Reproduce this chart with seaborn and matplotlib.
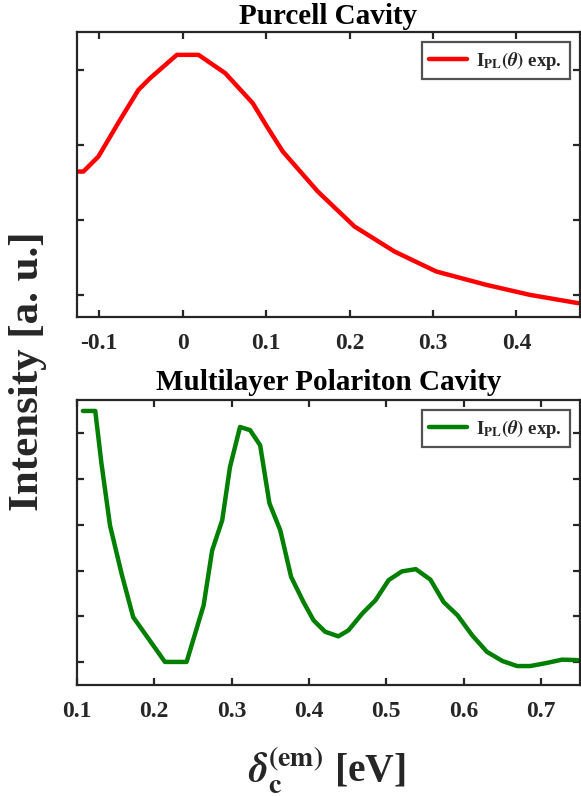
import matplotlib
matplotlib.use("Agg")
import matplotlib.pyplot as plt
import seaborn as sns
import pandas as pd

# ---- data ----
purcell_x = [-0.125, -0.119, -0.101, -0.075, -0.053, -0.039, -0.007, 0.019, 0.051, 0.084,
             0.101, 0.120, 0.162, 0.206, 0.254, 0.304, 0.364, 0.416, 0.474]
purcell_y = [2.644, 2.644, 2.844, 3.333, 3.733, 3.889, 4.20, 4.20, 3.956, 3.556,
             3.244, 2.911, 2.377, 1.911, 1.577, 1.311, 1.133, 1.00, 0.889]

polariton_x = [0.108, 0.124, 0.132, 0.143, 0.158, 0.173, 0.214, 0.242, 0.264, 0.275,
               0.288, 0.298, 0.311, 0.324, 0.337, 0.349, 0.363, 0.377, 0.393, 0.406,
               0.421, 0.438, 0.451, 0.469, 0.486, 0.503, 0.520, 0.538, 0.557, 0.574,
               0.592, 0.611, 0.630, 0.650, 0.669, 0.686, 0.708, 0.727, 0.747]
polariton_y = [6.49, 6.49, 5.34, 3.99, 2.93, 1.98, 1.00, 1.00, 2.24, 3.44,
               4.10, 5.26, 6.14, 6.07, 5.74, 4.47, 3.88, 2.86, 2.31, 1.91,
               1.66, 1.56, 1.69, 2.06, 2.35, 2.79, 2.98, 3.03, 2.80, 2.31,
               2.02, 1.58, 1.22, 1.02, 0.91, 0.91, 0.98, 1.05, 1.04]

top_xticks = [-0.1, 0, 0.1, 0.2, 0.3, 0.4]
top_xticklabels = ["-0.1", "0", "0.1", "0.2", "0.3", "0.4"]
top_yticks = [1, 2, 3, 4]
bot_xticks = [0.1, 0.2, 0.3, 0.4, 0.5, 0.6, 0.7]
bot_xticklabels = ["0.1", "0.2", "0.3", "0.4", "0.5", "0.6", "0.7"]
bot_yticks = [1, 2, 3, 4, 5, 6]

titles = ["Purcell Cavity", "Multilayer Polariton Cavity"]
legend_label = r"$\mathbf{I}_{\mathbf{PL}}(\boldsymbol{\theta})$ exp."

sns.set_theme(style="white")
plt.rcParams["font.family"] = ["Liberation Serif", "DejaVu Serif"]
plt.rcParams["font.weight"] = "bold"
plt.rcParams["mathtext.fontset"] = "stix"
plt.rcParams["axes.edgecolor"] = "#262626"

fig = plt.figure(figsize=(5.81, 7.96), dpi=100)
ax1 = fig.add_axes([0.132, 0.602, 0.866, 0.358])
ax2 = fig.add_axes([0.132, 0.140, 0.866, 0.3575])

df1 = pd.DataFrame({"x": purcell_x, "y": purcell_y})
df2 = pd.DataFrame({"x": polariton_x, "y": polariton_y})

sns.lineplot(data=df1, x="x", y="y", ax=ax1, color="#ff0000", lw=3.2, label=legend_label, sort=False)
sns.lineplot(data=df2, x="x", y="y", ax=ax2, color="#007f00", lw=3.2, label=legend_label, sort=False)

ax1.set_xlim(-0.127, 0.476)
ax1.set_ylim(0.707, 4.507)
ax1.set_xticks(top_xticks)
ax1.set_xticklabels(top_xticklabels)
ax1.set_yticks(top_yticks)

ax2.set_xlim(0.1, 0.75)
ax2.set_ylim(0.505, 6.73)
ax2.set_xticks(bot_xticks)
ax2.set_xticklabels(bot_xticklabels)
ax2.set_yticks(bot_yticks)

for ax, t, pad in zip([ax1, ax2], titles, [6, 7]):
    ax.set_yticklabels([])
    ax.set_xlabel("")
    ax.set_ylabel("")
    ax.set_title(t, fontsize=21, fontweight="bold", pad=pad, color="black")
    for s in ax.spines.values():
        s.set_linewidth(1.6)
        s.set_color("#262626")
    ax.tick_params(direction="in", length=5, width=1.6, top=True, right=True,
                   bottom=True, left=True, labelsize=17, colors="#262626",
                   labelcolor="#262626", pad=12)
    for lab in ax.get_xticklabels():
        lab.set_fontweight("bold")
    leg = ax.legend(loc="upper right", fontsize=13.5, frameon=True, fancybox=False,
                    edgecolor="#262626", handlelength=2.0, borderpad=0.4,
                    handletextpad=0.5, borderaxespad=0.55)
    leg.get_frame().set_linewidth(1.6)
    for txt in leg.get_texts():
        txt.set_fontweight("bold")

fig.text(0.048, 0.534, "Intensity [a. u.]", rotation=90, ha="center", va="center",
         fontsize=31, fontweight="bold", color="#262626")
fig.text(0.562, 0.018, r"$\boldsymbol{\delta}_{\mathbf{c}}^{\mathbf{(em)}}$ [eV]",
         ha="center", va="baseline", fontsize=28.5, fontweight="bold", color="#262626")

fig.savefig("out.png", dpi=100)
